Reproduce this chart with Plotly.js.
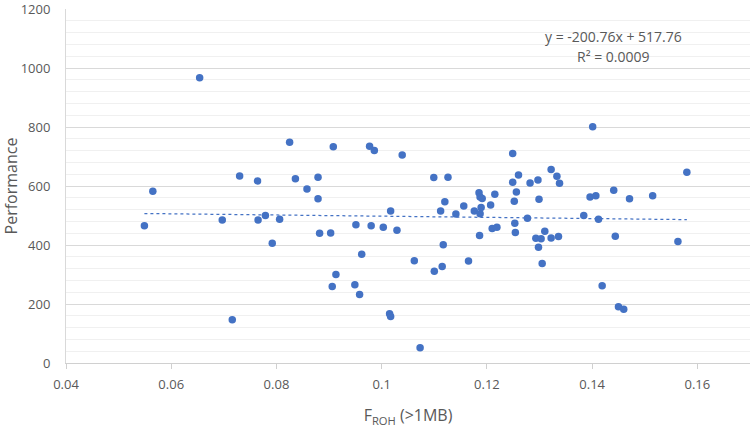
<!DOCTYPE html>
<html>
<head>
<meta charset="utf-8">
<script src="https://cdn.plot.ly/plotly-3.0.1.min.js"></script>
<style>
  html, body { margin: 0; padding: 0; background: #fff; }
  #chart { width: 750px; height: 432px; }
</style>
</head>
<body>
<div id="chart"></div>
<script>
// F_ROH (>1MB) values
const froh = [
  0.0549, 0.0565, 0.0654, 0.0697, 0.0716, 0.0730, 0.0764, 0.0765, 0.0779, 0.0792,
  0.0806, 0.0825, 0.0836, 0.0858, 0.0879, 0.0879, 0.0882, 0.0903, 0.0908, 0.0906,
  0.0913, 0.0949, 0.0951, 0.0958, 0.0962, 0.0977, 0.0980, 0.0986, 0.1003, 0.1015,
  0.1017, 0.1017, 0.1029, 0.1039, 0.1062, 0.1073, 0.1099, 0.1100, 0.1112, 0.1115,
  0.1117, 0.1120, 0.1126, 0.1141, 0.1156, 0.1165, 0.1176, 0.1185, 0.1186, 0.1187,
  0.1191, 0.1189, 0.1187, 0.1207, 0.1210, 0.1215, 0.1219, 0.1249, 0.1249, 0.1260,
  0.1256, 0.1252, 0.1253, 0.1254, 0.1277, 0.1282, 0.1297, 0.1299, 0.1293, 0.1303,
  0.1298, 0.1305, 0.1310, 0.1322, 0.1322, 0.1333, 0.1336, 0.1338, 0.1384, 0.1396,
  0.1401, 0.1407, 0.1412, 0.1419, 0.1441, 0.1444, 0.1450, 0.1460, 0.1471, 0.1515,
  0.1563, 0.1580
];
// Performance values
const performance = [
  465, 582, 967, 485, 147, 634, 617, 485, 500, 406,
  487, 748, 625, 590, 630, 557, 440, 441, 733, 259,
  300, 265, 469, 232, 369, 735, 465, 720, 460, 167,
  158, 515, 450, 705, 347, 52, 629, 311, 515, 327,
  401, 547, 630, 505, 532, 346, 515, 577, 432, 563,
  558, 527, 506, 536, 456, 572, 460, 710, 613, 637,
  580, 548, 474, 442, 491, 610, 620, 555, 423, 421,
  392, 337, 447, 656, 424, 633, 429, 609, 500, 563,
  801, 567, 487, 262, 586, 430, 191, 182, 557, 567,
  412, 647
];
// Linear trendline as displayed on the chart
const trendSlope = -200.76;
const trendIntercept = 517.76;
const equationText = "y = -200.76x + 517.76";
const r2Text = "R\u00B2 = 0.0009";
const xTitle = "F<sub>ROH</sub> (&gt;1MB)";
const yTitle = "Performance";

const xMin = Math.min(...froh), xMax = Math.max(...froh);
const trendX = [xMin, xMax];
const trendY = trendX.map(v => trendSlope * v + trendIntercept);

const textColor = '#595959';
const fontFam = '"Open Sans", "Noto Sans", sans-serif';

const traces = [
  {
    x: froh, y: performance, type: 'scatter', mode: 'markers',
    marker: { color: '#4472C4', size: 7.5 },
    hoverinfo: 'x+y', showlegend: false
  },
  {
    x: trendX, y: trendY, type: 'scatter', mode: 'lines',
    line: { color: '#4472C4', width: 1.25, dash: 'dot' },
    hoverinfo: 'skip', showlegend: false
  }
];

const layout = {
  width: 750, height: 432,
  margin: { l: 66, r: 0, t: 9, b: 69 },
  paper_bgcolor: '#ffffff', plot_bgcolor: '#ffffff',
  font: { family: fontFam, color: textColor, size: 13 },
  showlegend: false,
  xaxis: {
    range: [0.04, 0.17], dtick: 0.02, tick0: 0,
    showgrid: false, zeroline: false,
    showline: true, linecolor: '#d0d0d0', linewidth: 1,
    ticks: 'outside', ticklen: 5, tickcolor: '#d0d0d0',
    ticklabelstandoff: 4,
    tickfont: { family: fontFam, color: textColor, size: 13 },
    title: { text: xTitle, font: { family: fontFam, color: textColor, size: 16 }, standoff: 18 },
    automargin: false
  },
  yaxis: {
    range: [0, 1200], dtick: 200, tick0: 0,
    showgrid: true, gridcolor: '#d9d9d9', gridwidth: 1,
    minor: { dtick: 40, showgrid: true, gridcolor: '#f0f0f0', gridwidth: 1 },
    zeroline: false,
    showline: true, linecolor: '#d9d9d9', linewidth: 1,
    ticks: '', ticklabelstandoff: 12,
    ticklabeloverflow: 'allow',
    tickfont: { family: fontFam, color: textColor, size: 13 },
    title: { text: yTitle, font: { family: fontFam, color: textColor, size: 16 }, standoff: 14 },
    automargin: false
  },
  annotations: [
    {
      xref: 'paper', yref: 'paper', x: 0.801, y: 0.921,
      xanchor: 'center', yanchor: 'middle',
      text: equationText, showarrow: false,
      font: { family: fontFam, color: textColor, size: 14 }
    },
    {
      xref: 'paper', yref: 'paper', x: 0.801, y: 0.866,
      xanchor: 'center', yanchor: 'middle',
      text: r2Text, showarrow: false,
      font: { family: fontFam, color: textColor, size: 14 }
    }
  ]
};

Plotly.newPlot('chart', traces, layout, { staticPlot: true, displayModeBar: false });
</script>
</body>
</html>
